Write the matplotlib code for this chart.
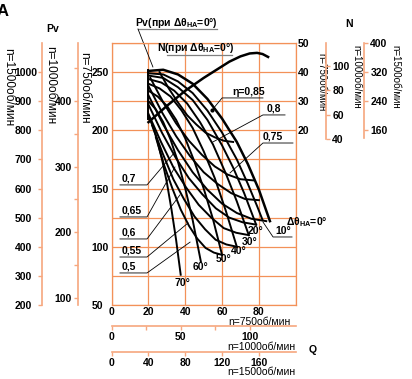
import matplotlib
matplotlib.use("Agg")
import matplotlib.pyplot as plt

# Pv-Q curves at n=750 rpm for guide vane angles (Q, Pv)
q_0 = [20, 28, 36, 44, 52, 60, 68, 74, 80, 86]
pv_0 = [251, 252, 248, 240, 227, 210, 190, 171, 149, 122]
q_10 = [20, 28, 36, 44, 52, 60, 68, 74, 79, 82]
pv_10 = [249, 248, 242, 232, 217, 198, 175, 154, 135, 123]
q_20 = [20, 28, 36, 44, 52, 60, 66, 72, 78.5]
pv_20 = [247, 245, 237, 226, 209, 187, 168, 146, 119]
q_30 = [20, 27, 34, 41, 48, 55, 62, 68, 74.5]
pv_30 = [244, 241, 234, 223, 207, 188, 163, 139, 110]
q_40 = [20, 26, 32, 38, 44, 50, 56, 62, 68]
pv_40 = [240, 236, 229, 217, 202, 182, 159, 131, 100]
q_50 = [20, 25, 30, 35, 40, 45, 50, 55, 60]
pv_50 = [234, 229, 221, 209, 193, 173, 150, 124, 93]
q_60 = [20, 24, 28, 32, 36, 40, 44, 48.5]
pv_60 = [225, 218, 207, 192, 173, 150, 123, 87]
q_70 = [20, 22.5, 25, 27.5, 30, 32.5, 35, 37.5]
pv_70 = [212, 203, 190, 174, 155, 132, 106, 76]
q_surge = [20, 20]
pv_surge = [252, 210]

# efficiency lines
q_e50 = [24, 28.5, 33, 37.5, 42, 46.5, 51, 55.5, 60]
pv_e50 = [194, 170, 150, 132, 118, 107, 99, 95, 93]
q_e55 = [22, 27.75, 33.5, 39.25, 45, 50.75, 56.5, 62.25, 68]
pv_e55 = [204, 180, 158, 141, 126, 115, 106, 102, 100]
q_e60 = [20, 26.8, 33.6, 40.4, 47.3, 54.1, 60.9, 67.7, 74.5]
pv_e60 = [214, 190, 168, 151, 136, 125, 116, 112, 110]
q_e65 = [20, 27.3, 34.6, 41.9, 49.3, 56.6, 63.9, 71.2, 78.5]
pv_e65 = [222, 198, 177, 159, 145, 133, 125, 121, 119]
q_e70 = [20, 28, 36, 44, 52, 60, 68, 76, 84]
pv_e70 = [230, 205, 183, 164, 149, 137, 129, 124, 122]
q_e75 = [20, 27.5, 35, 42.5, 50, 57.5, 65, 72.5, 80]
pv_e75 = [238, 215, 195, 178, 164, 154, 146, 141, 140]
q_e80 = [21, 28, 35, 42, 49, 56, 63, 70, 77]
pv_e80 = [245, 224, 206, 191, 179, 169, 162, 158, 157]
q_e85 = [26, 31, 36, 41, 46, 51, 56, 61, 66]
pv_e85 = [250, 236, 224, 213, 205, 198, 194, 191, 190]

# power at delta=0, n=750 rpm
q_n = [20, 30, 40, 50, 57, 64, 70, 75, 79, 82, 85]
n_750 = [22.8, 28.4, 33.6, 38.0, 40.8, 43.6, 45.4, 46.4, 46.6, 46.2, 45.2]

angle_labels = ["70°", "60°", "50°", "40°", "30°", "20°"]
angle_pos = [(38.2, 68.5), (48.5, 82.5), (61, 89.5), (69.2, 96.4), (75.2, 104.1), (78.4, 113.6)]

eta_left = ["0,7", "0,65", "0,6", "0,55", "0,5"]
eta_right = ["η=0,85", "0,8", "0,75"]

GRID = "#F39158"
AXC = "#F6A77E"
FS = 7.5

plt.rcParams["font.family"] = ["Liberation Sans", "DejaVu Sans"]
plt.rcParams["font.weight"] = "bold"
plt.rcParams["mathtext.fontset"] = "custom"
plt.rcParams["mathtext.rm"] = "Liberation Sans:bold"
plt.rcParams["mathtext.it"] = "Liberation Sans:bold"
plt.rcParams["mathtext.bf"] = "Liberation Sans:bold"
plt.rcParams["mathtext.default"] = "rm"

fig = plt.figure(figsize=(4.12, 3.79), dpi=100)
ax = fig.add_axes([0.2711, 0.1953, 0.4466, 0.6913])
ax.set_xlim(0, 100)
ax.set_ylim(50, 275)
ax.set_xticks(range(0, 101, 20), ["0", "20", "40", "60", "80", ""])
ax.set_yticks(range(50, 276, 25),
              ["50", "", "100", "", "150", "", "200", "", "250", ""])
ax.grid(True, color=GRID, lw=0.9)
ax.set_axisbelow(True)
ax.tick_params(length=0, labelsize=FS)
ax.tick_params(axis="x", pad=1.8)
ax.tick_params(axis="y", pad=14.4)
for t in ax.get_yticklabels():
    t.set_horizontalalignment("left")
for s in ax.spines.values():
    s.set_color(GRID)
    s.set_linewidth(0.9)
ax.set_ylabel("n=750об/мин", rotation=270, fontsize=8.5, ha="center", va="center")
ax.yaxis.set_label_coords(-0.147, 0.83)
ax.set_xlabel("n=750об/мин", fontsize=FS, ha="right", va="center")
ax.xaxis.set_label_coords(0.973, -0.066)

# ── curves ────────────────────────────────────────────
pq = [(q_0, pv_0, 1.8), (q_10, pv_10, 1.4), (q_20, pv_20, 1.4), (q_30, pv_30, 1.4),
      (q_40, pv_40, 1.4), (q_50, pv_50, 1.4), (q_60, pv_60, 1.4), (q_70, pv_70, 1.4),
      (q_surge, pv_surge, 1.4)]
for q, p, lw in pq:
    ax.plot(q, p, color="black", lw=lw, zorder=3)
eta = [(q_e50, pv_e50), (q_e55, pv_e55), (q_e60, pv_e60), (q_e65, pv_e65),
       (q_e70, pv_e70), (q_e75, pv_e75), (q_e80, pv_e80), (q_e85, pv_e85)]
for q, p in eta:
    ax.plot(q, p, color="black", lw=1.4, zorder=3)

# ── labels inside plot ────────────────────────────────
for lab, (x, y) in zip(angle_labels, angle_pos):
    ax.text(x, y, lab, fontsize=FS, ha="center", va="center", zorder=5)

ax.plot([82.2, 87.7, 98], [121.3, 108.4, 108.4], color="black", lw=0.6, clip_on=False)
ax.text(93.1, 113.6, "10°", fontsize=FS, ha="center", va="center")
ax.text(94.7, 121.6, "Δθ$_{НА}$=0°", fontsize=FS, ha="left", va="center", clip_on=False)

# left efficiency labels: text, underline level, target point
left_under = [153.1, 125.6, 106.7, 91.2, 77.5]
left_target = [(33.9, 180.5), (34.4, 168.5), (37.1, 144.5), (41.5, 120.4), (42.6, 104)]
for lab, yu, (tx, ty) in zip(eta_left, left_under, left_target):
    ax.text(5.6, yu + 1.2, lab, fontsize=FS, ha="left", va="bottom")
    ax.plot([4.5, 19.2, tx], [yu, yu, ty], color="black", lw=0.6, zorder=4)

right_under = [227.8, 213.2, 189.1]
right_x0 = [60, 82.2, 82.2]
right_x1 = [82.2, 94.2, 98.5]
right_tx = [65.4, 84.4, 82.2]
right_target = [(54.5, 217.3), (55, 190), (64.3, 163.4)]
for lab, yu, x0, x1, xt, (tx, ty) in zip(eta_right, right_under, right_x0, right_x1,
                                         right_tx, right_target):
    ax.text(xt, yu + 1.2, lab, fontsize=FS, ha="left", va="bottom")
    ax.plot([x1, x0, tx], [yu, yu, ty], color="black", lw=0.6, zorder=4, clip_on=False)
ax.plot([54.5], [217.3], "o", color="black", ms=2)

ax.text(12.7, 292.2, "Pv(при Δθ$_{НА}$=0°)", fontsize=FS, ha="left", va="center",
        clip_on=False)
ax.plot([14.3, 57.2], [287, 287], color="#808080", lw=0.9, clip_on=False)
ax.plot([14.3, 22.4], [287, 254.4], color="black", lw=0.6, clip_on=False)
ax.text(24.6, 270.7, "N(при Δθ$_{НА}$=0°)", fontsize=FS, ha="left", va="center")
ax.plot([30, 65.4], [264.7, 264.7], color="#808080", lw=0.9)

# ── Pv scales on the left ─────────────────────────────
k2_1000 = (1000 / 750) ** 2
k2_1500 = (1500 / 750) ** 2


def left_scale(pos, factor):
    a = ax.twinx()
    a.set_ylim(50 * factor, 275 * factor)
    a.yaxis.tick_left()
    a.yaxis.set_label_position("left")
    for name, s in a.spines.items():
        s.set_visible(name == "left")
    a.spines["left"].set_position(("axes", pos))
    a.spines["left"].set_color(AXC)
    a.spines["left"].set_linewidth(1.2)
    return a


ax_p1000 = left_scale(-0.185, k2_1000)
ax_p1000.set_yticks([100, 200, 300, 400])
ax_p1000.set_yticks([150, 250, 350, 450], minor=True)
ax_p1000.tick_params(axis="y", which="both", direction="out", length=2.9, width=1,
                     color=AXC, labelsize=FS, pad=1.4)
ax_p1000.set_ylabel("n=1000об/мин", rotation=270, fontsize=8.5, ha="center", va="center")
ax_p1000.yaxis.set_label_coords(-0.337, 0.84)

ax_p1500 = left_scale(-0.380, k2_1500)
ax_p1500.set_yticks(range(200, 1001, 100))
ax_p1500.tick_params(axis="y", direction="out", length=2.9, width=1,
                     color=AXC, labelsize=FS, pad=16.6)
for t in ax_p1500.get_yticklabels():
    t.set_horizontalalignment("left")
ax_p1500.set_ylabel("n=1500об/мин", rotation=270, fontsize=8.5, ha="center", va="center")
ax_p1500.yaxis.set_label_coords(-0.565, 0.83)

# ── N scales on the right ─────────────────────────────
k3_1000 = (1000 / 750) ** 3
k3_1500 = (1500 / 750) ** 3
ax_n750 = ax.twinx()
ax_n750.set_ylim(-40, 50)
ax_n750.set_yticks([20, 30, 40, 50])
ax_n750.tick_params(axis="y", length=0, labelsize=FS, pad=1.4)
for s in ax_n750.spines.values():
    s.set_visible(False)
ax_n750.set_ylabel("n=750об/мин", rotation=270, fontsize=7, ha="center", va="center")
ax_n750.yaxis.set_label_coords(1.139, 0.851)
ax_n750.plot(q_n, n_750, color="black", lw=1.8, zorder=3)


def right_scale(pos, factor, low):
    a = ax.twinx()
    a.set_ylim(-40 * factor, 50 * factor)
    for name, s in a.spines.items():
        s.set_visible(name == "right")
    a.spines["right"].set_position(("axes", pos))
    a.spines["right"].set_bounds(low, 50 * factor)
    a.spines["right"].set_color(AXC)
    a.spines["right"].set_linewidth(1.2)
    a.tick_params(axis="y", direction="out", length=2.9, width=1, color=AXC,
                  labelsize=FS, pad=1.8)
    return a


ax_n1000 = right_scale(1.163, k3_1000, 40)
ax_n1000.set_yticks([40, 60, 80, 100])
ax_n1000.set_ylabel("n=1000об/мин", rotation=270, fontsize=7, ha="center", va="center")
ax_n1000.yaxis.set_label_coords(1.329, 0.870)

ax_n1500 = right_scale(1.370, k3_1500, 138)
ax_n1500.set_yticks([160, 240, 320, 400])
ax_n1500.set_ylabel("n=1500об/мин", rotation=270, fontsize=7, ha="center", va="center")
ax_n1500.yaxis.set_label_coords(1.543, 0.870)

# ── Q scales at the bottom ────────────────────────────


def bottom_scale(pos, factor):
    a = ax.twiny()
    a.set_xlim(0, 100 * factor)
    a.xaxis.tick_bottom()
    a.xaxis.set_label_position("bottom")
    for name, s in a.spines.items():
        s.set_visible(name == "bottom")
    a.spines["bottom"].set_position(("axes", pos))
    a.spines["bottom"].set_color(AXC)
    a.spines["bottom"].set_linewidth(1.2)
    a.tick_params(axis="x", which="both", direction="out", length=2.9, width=1,
                  color=AXC, labelsize=FS, pad=1.5)
    return a


ax_q1000 = bottom_scale(-0.079, 1000 / 750)
ax_q1000.set_xticks([0, 50, 100])
ax_q1000.set_xticks([25, 75], minor=True)
ax_q1000.set_xlabel("n=1000об/мин", fontsize=FS, ha="right", va="center")
ax_q1000.xaxis.set_label_coords(1.0, -0.159)

ax_q1500 = bottom_scale(-0.179, 1500 / 750)
ax_q1500.set_xticks([0, 40, 80, 120, 160])
ax_q1500.set_xlabel("n=1500об/мин", fontsize=FS, ha="right", va="center")
ax_q1500.xaxis.set_label_coords(1.0, -0.257)

# ── axis titles ───────────────────────────────────────
fig.text(53 / 412, 1 - 29 / 379, "Pv", fontsize=FS, ha="center", va="center")
fig.text(349 / 412, 1 - 24 / 379, "N", fontsize=FS, ha="center", va="center")
fig.text(313 / 412, 1 - 350 / 379, "Q", fontsize=FS, ha="center", va="center")
fig.text(-3 / 412, 1 - 4 / 379, "A", fontsize=12, ha="left", va="top")

fig.savefig("out.png", dpi=100)
